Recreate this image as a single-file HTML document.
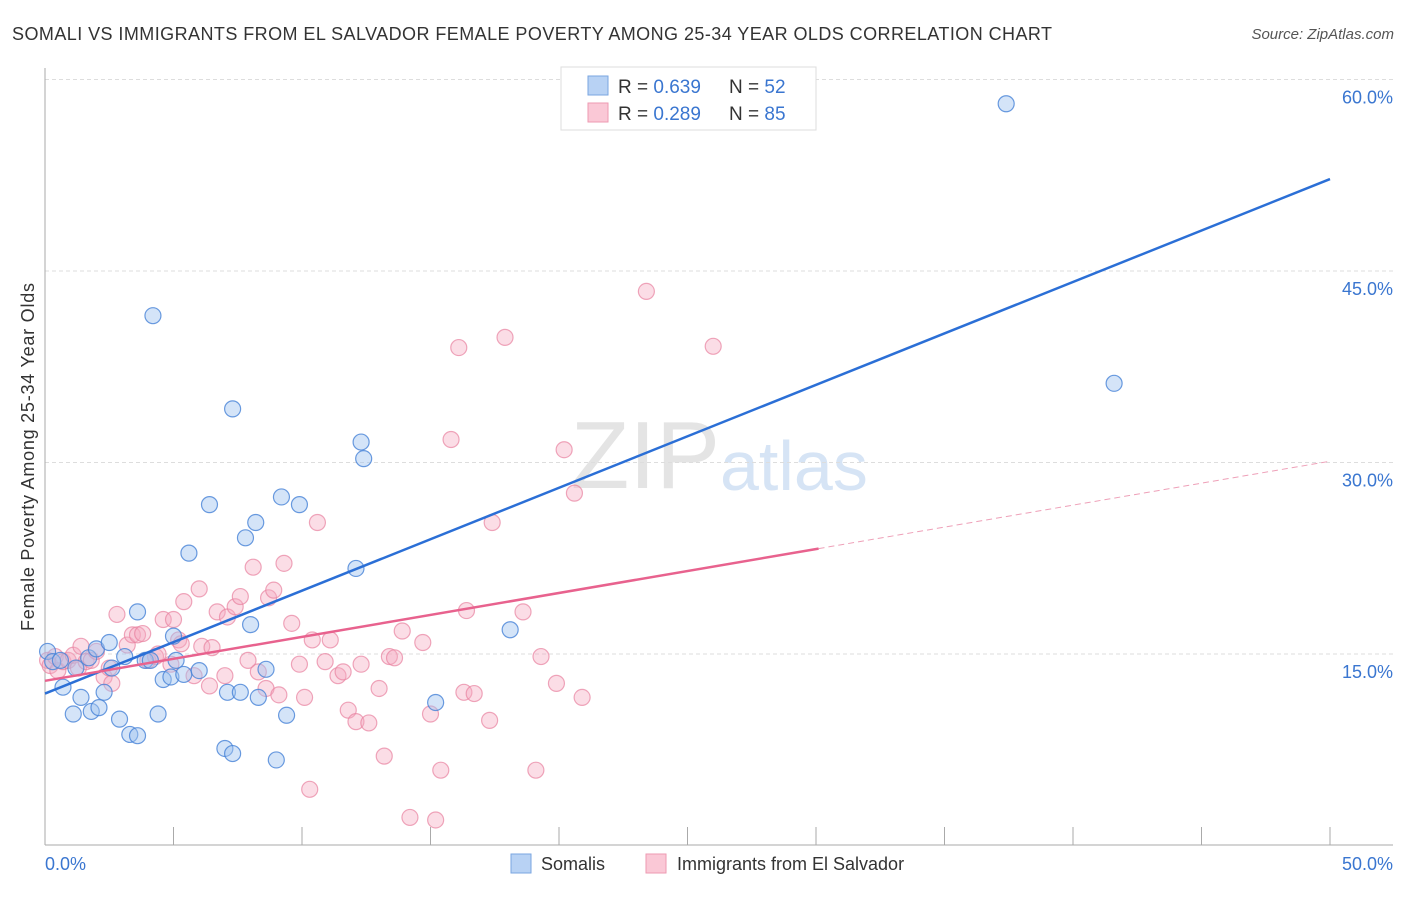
<!DOCTYPE html>
<html><head><meta charset="utf-8"><style>
body{margin:0;background:#fff;font-family:"Liberation Sans",sans-serif;}
svg text{font-family:"Liberation Sans",sans-serif;}
</style></head><body>
<svg id="c" width="1406" height="892" xmlns="http://www.w3.org/2000/svg">
<text x="12" y="40" font-size="18" fill="#333" textLength="1040">SOMALI VS IMMIGRANTS FROM EL SALVADOR FEMALE POVERTY AMONG 25-34 YEAR OLDS CORRELATION CHART</text>
<text x="1394" y="39" font-size="15" fill="#555" text-anchor="end" font-style="italic">Source: ZipAtlas.com</text>
<text x="720" y="488" font-size="96" fill="#e4e4e4" text-anchor="end" font-family="Liberation Serif">ZIP</text>
<text x="720" y="490" font-size="70" fill="#d6e4f5">atlas</text>
<g id="grid"></g>
<line x1="45" y1="68" x2="45" y2="845" stroke="#aaa"/>
<line x1="45" y1="845" x2="1393" y2="845" stroke="#aaa"/>
<text transform="translate(34,457) rotate(-90)" font-size="18" fill="#333" text-anchor="middle" textLength="348">Female Poverty Among 25-34 Year Olds</text>
<g id="pts"></g>
<g id="lines"></g>
<g>
<rect x="561" y="67" width="255" height="63" fill="#fff" stroke="#ddd"/>
<rect x="588" y="76" width="20" height="19" fill="#b8d2f4" stroke="#7aa6e0"/>
<rect x="588" y="103" width="20" height="19" fill="#fac8d6" stroke="#ee9ab2"/>
<text x="618" y="93" font-size="19" fill="#333">R = <tspan fill="#3a76d0">0.639</tspan></text>
<text x="729" y="93" font-size="19" fill="#333">N = <tspan fill="#3a76d0">52</tspan></text>
<text x="618" y="120" font-size="19" fill="#333">R = <tspan fill="#3a76d0">0.289</tspan></text>
<text x="729" y="120" font-size="19" fill="#333">N = <tspan fill="#3a76d0">85</tspan></text>
</g>
<g>
<rect x="511" y="854" width="20" height="19" fill="#b8d2f4" stroke="#7aa6e0"/>
<text x="541" y="870" font-size="18" fill="#333">Somalis</text>
<rect x="646" y="854" width="20" height="19" fill="#fac8d6" stroke="#ee9ab2"/>
<text x="677" y="870" font-size="18" fill="#333">Immigrants from El Salvador</text>
</g>
</svg>
<script>
const xTicks=[0,5,10,15,20,25,30,35,40,45,50];
const yTicks=[15,30,45,60];
const blueX=[0.1,0.3,0.6,0.7,1.1,1.2,1.4,1.7,1.8,2.0,2.1,2.3,2.5,2.6,2.9,3.1,3.3,3.6,3.6,3.9,4.1,4.2,4.4,4.6,4.9,5.0,5.1,5.4,5.6,6.0,6.4,7.0,7.1,7.3,7.3,7.6,7.8,8.0,8.2,8.3,8.6,9.0,9.2,9.4,9.9,12.1,12.3,12.4,15.2,18.1,37.4,41.6];
const blueY=[15.2,14.4,14.5,12.4,10.3,13.9,11.6,14.7,10.5,15.4,10.8,12.0,15.9,13.9,9.9,14.8,8.7,18.3,8.6,14.5,14.5,41.5,10.3,13.0,13.2,16.4,14.5,13.4,22.9,13.7,26.7,7.6,12.0,34.2,7.2,12.0,24.1,17.3,25.3,11.6,13.8,6.7,27.3,10.2,26.7,21.7,31.6,30.3,11.2,16.9,58.1,36.2];
const pinkX=[0.1,0.2,0.4,0.5,0.7,0.9,1.1,1.3,1.4,1.6,1.8,2.0,2.3,2.5,2.6,2.8,3.2,3.4,3.6,3.8,4.0,4.3,4.4,4.6,4.9,5.0,5.2,5.3,5.4,5.8,6.0,6.1,6.4,6.5,6.7,7.0,7.1,7.4,7.6,7.9,8.1,8.3,8.6,8.7,8.9,9.1,9.3,9.6,9.9,10.1,10.3,10.4,10.6,10.9,11.1,11.4,11.6,11.8,12.1,12.3,12.6,13.0,13.2,13.4,13.6,13.9,14.2,14.7,15.0,15.2,15.4,15.8,16.1,16.3,16.4,16.7,17.3,17.4,17.9,18.6,19.1,19.3,19.9,20.2,20.6,20.9,23.4,26.0];
const pinkY=[14.5,14.1,14.8,13.7,14.4,14.5,14.9,13.9,15.6,14.4,14.5,15.2,13.2,13.9,12.7,18.1,15.7,16.5,16.5,16.6,14.5,14.8,15.0,17.7,14.2,17.7,16.1,15.8,19.1,13.3,20.1,15.6,12.5,15.5,18.3,13.3,17.9,18.7,19.5,14.5,21.8,13.6,12.3,19.4,20.0,11.8,22.1,17.4,14.2,11.6,4.4,16.1,25.3,14.4,16.1,13.3,13.6,10.6,9.7,14.2,9.6,12.3,7.0,14.8,14.7,16.8,2.2,15.9,10.3,2.0,5.9,31.8,39.0,12.0,18.4,11.9,9.8,25.3,39.8,18.3,5.9,14.8,12.7,31.0,27.6,11.6,43.4,39.1];
const blueTrend=[11.9,52.2];
const pinkTrend=[12.9,30.1];
const pinkSolidEnd=30.1;
const NS='http://www.w3.org/2000/svg';
const sx=v=>45+v*25.7;
const sy=v=>845.5-v*12.767;
function mk(t,a,p){const e=document.createElementNS(NS,t);for(const k in a)e.setAttribute(k,a[k]);p.appendChild(e);return e;}
const grid=document.getElementById('grid');
yTicks.forEach(v=>{
 const l=mk('line',{x1:45,x2:1393,y1:sy(v),y2:sy(v),stroke:'#ddd','stroke-dasharray':'4,3'},grid);
 
 
 const t=mk('text',{x:1393,y:sy(v)+24,'font-size':18,fill:'#3a76d0','text-anchor':'end'},grid);
 t.textContent=v.toFixed(1)+'%';
 
 
});
xTicks.forEach(v=>{
 const l=mk('line',{x1:sx(v),x2:sx(v),y1:827,y2:845,stroke:'#aaa'},grid);
 
 
});
[[0,'start',45],[50,'end',1393]].forEach(([v,a,x])=>{
 const t=mk('text',{x:x,y:870,'font-size':18,fill:'#3a76d0','text-anchor':a},grid);
 t.textContent=v.toFixed(1)+'%';
 
 
});
const pts=document.getElementById('pts');
pinkX.forEach((x,i)=>{
 const c=mk('circle',{cx:sx(x),cy:sy(pinkY[i]),r:8,fill:'rgba(246,170,192,0.4)',stroke:'rgba(232,130,160,0.7)','stroke-width':1.2},pts);
 
 
});
blueX.forEach((x,i)=>{
 const c=mk('circle',{cx:sx(x),cy:sy(blueY[i]),r:8,fill:'rgba(160,196,240,0.45)',stroke:'rgba(70,130,215,0.8)','stroke-width':1.2},pts);
 
 
});
const lines=document.getElementById('lines');
const b=mk('line',{x1:sx(0),y1:sy(blueTrend[0]),x2:sx(50),y2:sy(blueTrend[1]),stroke:'#2b6fd6','stroke-width':2.5},lines);


const py=x=>pinkTrend[0]+(pinkTrend[1]-pinkTrend[0])*x/50;
const p1=mk('line',{x1:sx(0),y1:sy(py(0)),x2:sx(pinkSolidEnd),y2:sy(py(pinkSolidEnd)),stroke:'#e8628e','stroke-width':2.5},lines);


const p2=mk('line',{x1:sx(pinkSolidEnd),y1:sy(py(pinkSolidEnd)),x2:sx(50),y2:sy(py(50)),stroke:'#eea0b8','stroke-width':1,'stroke-dasharray':'6,4'},lines);


</script>
</body></html>
